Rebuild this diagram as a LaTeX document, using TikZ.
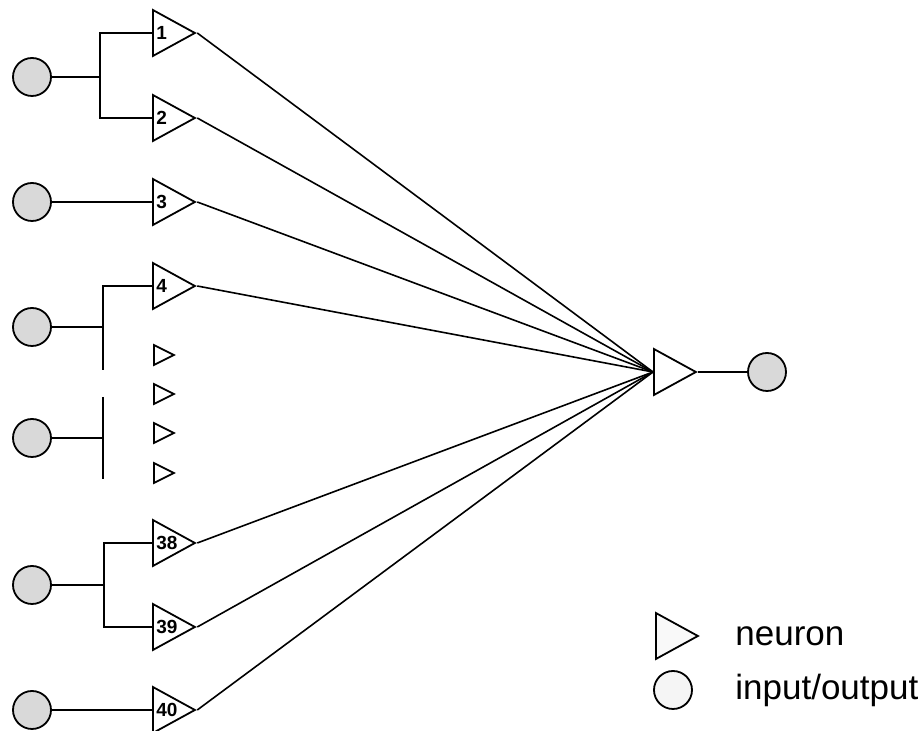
\documentclass[tikz,border=0pt]{standalone}
\usepackage{fontspec}
\setmainfont{Liberation Sans}
\usetikzlibrary{shapes.geometric}

\begin{document}
\begin{tikzpicture}[x=0.5pt,y=-0.5pt,
    unit/.style={circle,draw,line width=0.9pt,fill=gray!30,minimum size=19pt,inner sep=0pt},
    neuron/.style={isosceles triangle,isosceles triangle stretches,shape border rotate=0,draw,line width=0.9pt,fill=white,minimum width=23pt,minimum height=21pt,inner sep=0pt,anchor=lower side},
    tiny/.style={neuron,minimum width=10pt,minimum height=10pt},
    num/.style={anchor=west,inner sep=0pt,font=\fontsize{9.5}{11}\selectfont\bfseries},
    wire/.style={line width=0.8pt},
    key/.style={anchor=west,inner sep=0pt,font=\fontsize{17.5}{21}\selectfont}]

    \path[use as bounding box,fill=white] (0,0) rectangle (923,731);

    % inputs
    \node[unit] (c1) at (32,77) {};
    \node[unit] (c3) at (32,202) {};
    \node[unit] (c4) at (32,327) {};
    \node[unit] (c5) at (32,438) {};
    \node[unit] (c38) at (32,585) {};
    \node[unit] (c40) at (32,710) {};

    % neurons
    \node[neuron] (t1) at (152,33) {};
    \node[neuron] (t2) at (152,118) {};
    \node[neuron] (t3) at (152,202) {};
    \node[neuron] (t4) at (152,286) {};
    \node[tiny] (s1) at (153,355) {};
    \node[tiny] (s2) at (153,394) {};
    \node[tiny] (s3) at (153,433) {};
    \node[tiny] (s4) at (153,473) {};
    \node[neuron] (t38) at (152,543) {};
    \node[neuron] (t39) at (152,627) {};
    \node[neuron] (t40) at (152,710) {};

    \node[num] (n1) at ([xshift=2pt]t1.lower side) {1};
    \node[num] (n2) at ([xshift=2pt]t2.lower side) {2};
    \node[num] (n3) at ([xshift=2pt]t3.lower side) {3};
    \node[num] (n4) at ([xshift=2pt]t4.lower side) {4};
    \node[num] (n38) at ([xshift=2pt]t38.lower side) {38};
    \node[num] (n39) at ([xshift=2pt]t39.lower side) {39};
    \node[num] (n40) at ([xshift=2pt]t40.lower side) {40};

    % branches
    \coordinate (b1) at (100,77);
    \coordinate (b4) at (103,327);
    \coordinate (e4) at (103,370);
    \coordinate (b5) at (103,438);
    \coordinate (f5) at (103,397);
    \coordinate (e5) at (103,479);
    \coordinate (b38) at (104,585);

    \draw[wire] (c1) -- (b1);
    \draw[wire] (t1.lower side) -| (b1) |- (t2.lower side);
    \draw[wire] (c3) -- (t3.lower side);
    \draw[wire] (c4) -- (b4);
    \draw[wire] (t4.lower side) -| (b4) -- (e4);
    \draw[wire] (c5) -- (b5);
    \draw[wire] (f5) -- (e5);
    \draw[wire] (c38) -- (b38);
    \draw[wire] (t38.lower side) -| (b38) |- (t39.lower side);
    \draw[wire] (c40) -- (t40.lower side);

    % output
    \node[neuron] (out) at (653,372) {};
    \node[unit] (cout) at (767,372) {};
    \draw[wire] (out.apex) -- (cout);

    \foreach \t in {t1,t2,t3,t4,t38,t39,t40}
        \draw[wire] (\t.apex) -- (out.lower side);

    % legend
    \node[neuron,fill=gray!5] (keyt) at (655,636) {};
    \node[key] (keyn) at (735,636) {neuron};
    \node[unit,fill=gray!8] (keyc) at (673,690) {};
    \node[key] (keyio) at (735,690) {input/output};

\end{tikzpicture}
\end{document}
